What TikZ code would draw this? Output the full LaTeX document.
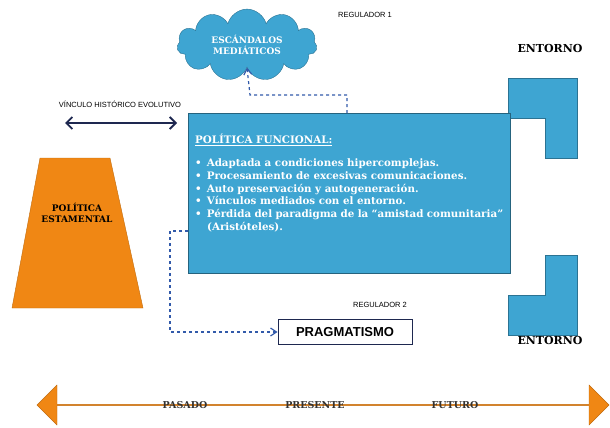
\documentclass[tikz,border=0pt]{standalone}
\usepackage{fontspec}
\setmainfont{DejaVu Serif}
\setsansfont{Liberation Sans}
\usetikzlibrary{shapes.symbols,shapes.geometric,shapes.arrows,arrows.meta}
\definecolor{cielo}{RGB}{62,165,210}
\definecolor{naranja}{RGB}{240,135,20}
\definecolor{marino}{RGB}{30,40,80}
\definecolor{trazo}{RGB}{50,90,170}
\tikzset{
	etiqueta/.style={font=\sffamily\fontsize{7.5}{8}\selectfont},
	entorno/.style={font=\bfseries\fontsize{11}{13}\selectfont},
	tiempo/.style={font=\bfseries\fontsize{9.5}{11}\selectfont, text=black!80},
	regula/.style={draw=trazo, dashed, very thick}
}
\begin{document}
\begin{tikzpicture}[x=1pt, y=-1pt]
	\useasboundingbox (0,0) rectangle (610,428);
	% Nube superior
	\node (nube) [cloud, cloud puffs=11, aspect=2.2, draw=cielo!70!black, fill=cielo,
		minimum width=140, minimum height=62, align=center, text=white,
		font=\bfseries\fontsize{9}{11}\selectfont] at (247,45) {ESCÁNDALOS\\MEDIÁTICOS};
	\node (reg1) [etiqueta] at (365,15) {REGULADOR 1};
	% Entorno
	\node (ent1) [entorno] at (550,48) {ENTORNO};
	\filldraw[draw=cielo!70!black, fill=cielo] (508,78) -- (577,78) -- (577,158) --
	(545,158) -- (545,118) -- (508,118) -- cycle;
	\filldraw[draw=cielo!70!black, fill=cielo] (545,255) -- (577,255) -- (577,335) --
	(508,335) -- (508,295) -- (545,295) -- cycle;
	\node (ent2) [entorno] at (550,340) {ENTORNO};
	% Politica estamental
	\filldraw[draw=naranja!80!black, fill=naranja] (40,158) -- (110,158) -- (143,308) --
	(12,308) -- cycle;
	\node (estamental) [align=center, font=\bfseries\fontsize{9}{11}\selectfont]
		at (77,213) {POLÍTICA\\ESTAMENTAL};
	% Vinculo
	\node (vinc) [etiqueta] at (120,104) {VÍNCULO HISTÓRICO EVOLUTIVO};
	\coordinate (vizq) at (65,123);
	\coordinate (vder) at (177,123);
	\draw[marino, line width=1.8pt, {Straight Barb[length=6pt]}-{Straight Barb[length=6pt]}] (vizq) -- (vder);
	% Politica funcional
	\node (func) [draw=cielo!60!black, fill=cielo, minimum width=322, minimum height=160,
		text width=308, anchor=north west, inner sep=7pt, text=white,
		font=\bfseries\fontsize{10.3}{12.8}\selectfont, align=justify] at (188,113) {%
		\underline{POLÍTICA FUNCIONAL:}\par\vspace{10pt}
		\leavevmode\hangindent=12pt\hangafter=1 •\hspace{5pt}Adaptada a condiciones hipercomplejas.\par
		\hangindent=12pt\hangafter=1 •\hspace{5pt}Procesamiento de excesivas comunicaciones.\par
		\hangindent=12pt\hangafter=1 •\hspace{5pt}Auto preservación y autogeneración.\par
		\hangindent=12pt\hangafter=1 •\hspace{5pt}Vínculos mediados con el entorno.\par
		\hangindent=12pt\hangafter=1 •\hspace{5pt}Pérdida del paradigma de la “amistad comunitaria” (Aristóteles).\par\vspace{20pt}};
	% Pragmatismo
	\node (reg2) [etiqueta] at (380,305) {REGULADOR 2};
	\node (prag) [draw=marino, thick, fill=white, minimum width=134, minimum height=25,
		font=\sffamily\bfseries\fontsize{13}{15}\selectfont] at (345,332) {PRAGMATISMO};
	% Reguladores
	\draw[regula, -{Straight Barb[length=6pt,width=8pt]}] (func.north -| 347,0) |- (250,95) -- (nube.south);
	\draw[regula, -{Straight Barb[length=6pt,width=8pt]}] (func.west |- 0,231) -- (170,231) |- (prag.west);
	% Linea de tiempo
	\node (flecha) [double arrow, draw=naranja!80!black, fill=naranja,
		minimum width=40, minimum height=572,
		double arrow head extend=7pt, double arrow head indent=0pt, inner sep=0pt] at (323,405) {};
	\node (pasado) [tiempo] at (185,405) {PASADO};
	\node (presente) [tiempo] at (315,405) {PRESENTE};
	\node (futuro) [tiempo] at (455,405) {FUTURO};
\end{tikzpicture}
\end{document}
